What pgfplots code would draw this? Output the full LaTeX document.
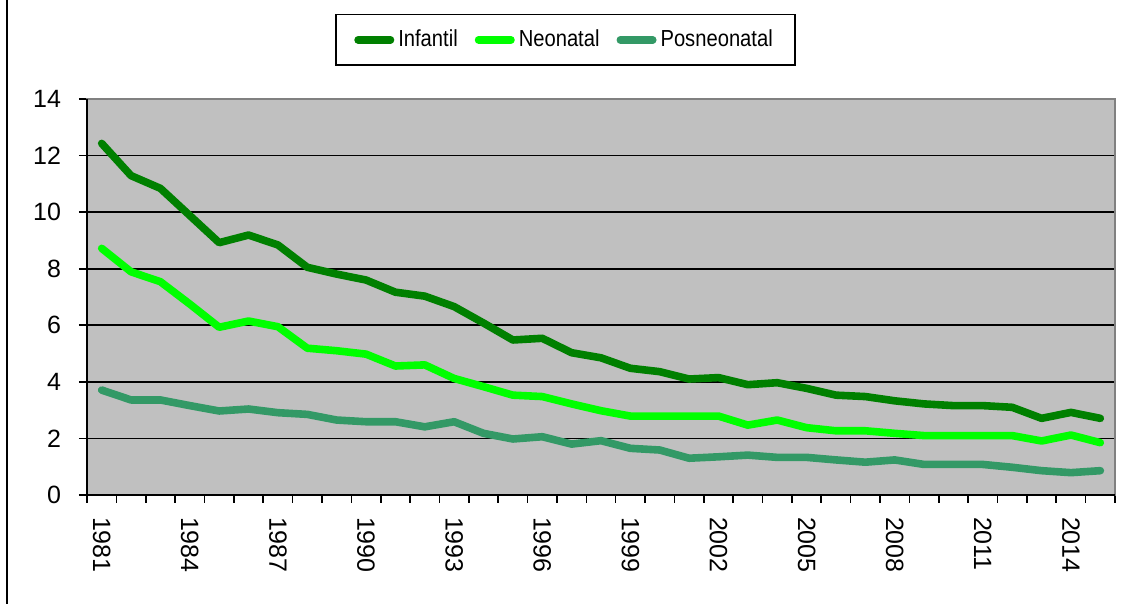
\documentclass[border=0pt]{standalone}
\usepackage{pgfplots}
\usepackage{pgfplotstable}
\pgfplotsset{compat=1.18}
\usepackage{fontspec}
\setmainfont{Liberation Sans}
\newfontfamily\legfont[FakeStretch=0.87]{Liberation Sans}
\definecolor{cInf}{HTML}{008000}
\definecolor{cNeo}{HTML}{00FF00}
\definecolor{cPos}{HTML}{339966}
\definecolor{plotbg}{HTML}{C0C0C0}
\definecolor{frameg}{HTML}{808080}
\pgfplotstableread{
x inf neo pos
0 12.43 8.72 3.71
1 11.29 7.89 3.36
2 10.84 7.54 3.36
3 9.88 6.75 3.16
4 8.92 5.93 2.97
5 9.19 6.15 3.04
6 8.84 5.95 2.91
7 8.05 5.19 2.85
8 7.81 5.10 2.65
9 7.60 4.98 2.59
10 7.17 4.56 2.59
11 7.03 4.60 2.41
12 6.66 4.12 2.59
13 6.08 3.83 2.18
14 5.48 3.53 1.98
15 5.54 3.48 2.06
16 5.03 3.22 1.80
17 4.85 2.98 1.92
18 4.48 2.79 1.65
19 4.36 2.79 1.59
20 4.10 2.79 1.30
21 4.15 2.79 1.35
22 3.90 2.47 1.41
23 3.97 2.65 1.33
24 3.77 2.38 1.33
25 3.53 2.27 1.24
26 3.48 2.27 1.16
27 3.33 2.18 1.24
28 3.22 2.10 1.08
29 3.16 2.10 1.08
30 3.16 2.10 1.08
31 3.10 2.10 0.98
32 2.71 1.91 0.86
33 2.92 2.12 0.79
34 2.71 1.85 0.86
}\datatable
\begin{document}
\begin{tikzpicture}
\useasboundingbox (0,0) rectangle (564pt,302pt);
\draw[line width=0.8pt] (3.5pt,0) -- (3.5pt,302pt);
\begin{axis}[
  at={(43.5pt,54.5pt)}, anchor=south west,
  width=514pt, height=198pt, scale only axis,
  xmin=-0.5, xmax=34.5, ymin=0, ymax=14,
  axis background/.style={fill=plotbg},
  axis line style={draw=frameg, line width=1pt},
  ytick={0,2,...,14},
  ymajorgrids, grid style={black, line width=0.9pt},
  xtick={-0.5,0.5,...,34.5}, xticklabels={},
  extra x ticks={0,3,...,33},
  extra x tick labels={1981,1984,1987,1990,1993,1996,1999,2002,2005,2008,2011,2014},
  extra x tick style={major tick length=0pt, grid=none,
     tick label style={yshift=-7.5pt, rotate=-90, anchor=west}},
  tick align=outside, major tick length=4pt,
  tick style={black, line width=0.8pt},
  xtick pos=bottom, ytick pos=left,
  tick label style={font=\fontsize{12.5}{14}\selectfont},
  /pgf/number format/assume math mode=true,
  yticklabel style={xshift=-5.5pt},
  legend columns=3,
  legend style={at={(0.4655,1)}, anchor=south, yshift=16.5pt,
    draw=black, line width=0.8pt, fill=white,
    font=\legfont\fontsize{11.6}{14}\selectfont,
    inner xsep=9pt, inner ysep=5.7pt,
    /tikz/every even column/.append style={column sep=6.5pt}},
  legend image code/.code={\draw[#1, line width=3.8pt, line cap=round] (0pt,0pt) -- (16.2pt,0pt);},
  every axis plot/.append style={line width=3.8pt, line cap=round, line join=round},
  after end axis/.code={
    \draw[black, line width=1pt] (rel axis cs:0,1) -- (rel axis cs:0,0) -- (rel axis cs:1,0);
  },
]
\addplot[cInf] table[x=x, y=inf] {\datatable};
\addlegendentry{Infantil}
\addplot[cNeo] table[x=x, y=neo] {\datatable};
\addlegendentry{Neonatal}
\addplot[cPos] table[x=x, y=pos] {\datatable};
\addlegendentry{Posneonatal\hspace{-10.5pt}}
\end{axis}
\end{tikzpicture}
\end{document}
